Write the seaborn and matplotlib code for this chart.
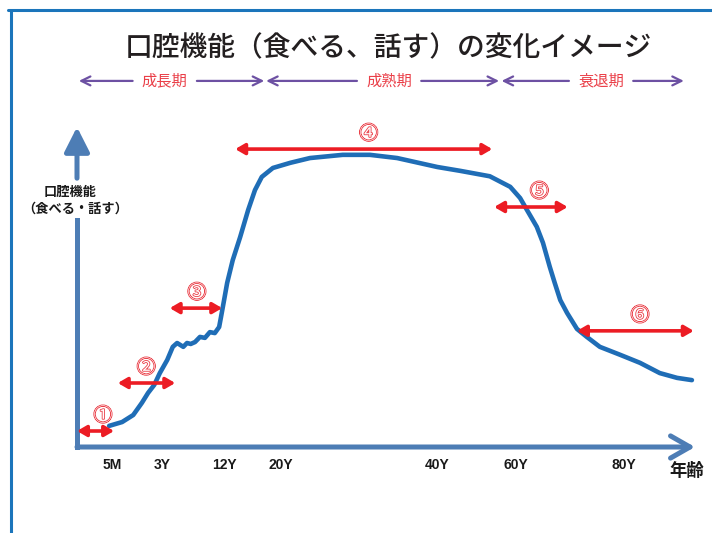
import matplotlib
matplotlib.use("Agg")
import matplotlib.pyplot as plt
import matplotlib.patheffects as pe
from matplotlib.lines import Line2D
import pandas as pd
import seaborn as sns

# Position along the age axis (0-100) and oral-function level (0-100)
curve_pos = [5.2, 7.3, 9.1, 10.5, 11.5, 12.5, 13.4, 14.6, 15.5, 16.2, 17.2, 17.8,
             18.4, 19.1, 19.9, 20.7, 21.5, 22.3, 23.0, 23.3, 23.8, 24.3, 25.2, 26.4,
             27.7, 28.8, 29.9, 31.7, 34.5, 37.7, 43.0, 47.4, 51.8, 58.3, 62.0, 66.8,
             70.1, 71.7, 72.8, 74.4, 75.4, 76.5, 77.3, 78.2, 79.3, 80.9, 82.5, 84.6,
             87.9, 91.1, 94.3, 97.1, 99.5]
curve_level = [6.6, 7.8, 10.0, 13.8, 16.9, 19.4, 23.1, 27.2, 31.3, 32.5, 31.3, 32.5,
               32.2, 32.8, 34.4, 34.1, 35.9, 35.6, 37.5, 40.6, 45.9, 51.3, 58.4, 65.6,
               74.1, 80.3, 84.4, 87.2, 88.8, 90.3, 91.3, 91.3, 90.3, 87.5, 86.3, 84.6,
               81.3, 77.8, 74.1, 68.8, 63.8, 56.3, 51.3, 45.9, 41.9, 36.9, 34.4, 31.3,
               28.8, 26.3, 23.1, 21.6, 20.9]

tick_pos = [5.7, 13.8, 23.8, 33.0, 58.3, 71.0, 88.5]
tick_labels = ["5M", "3Y", "12Y", "20Y", "40Y", "60Y", "80Y"]

phase_names = ["成長期", "成熟期", "衰退期"]
phase_start = [0.3, 30.6, 68.7]
phase_end = [30.3, 68.3, 98.2]
phase_label_pos = [14.2, 50.5, 84.8]

mark_labels = ["①", "②", "③", "④", "⑤", "⑥"]
mark_start = [0.0, 6.6, 15.0, 25.6, 67.5, 80.9]
mark_end = [6.0, 15.9, 23.5, 67.2, 79.4, 99.8]
mark_level = [5.0, 20.0, 43.4, 93.1, 75.0, 36.3]
mark_label_pos = [4.2, 11.2, 19.4, 47.2, 74.8, 91.1]

title = "口腔機能（食べる、話す）の変化イメージ"
ylabel_lines = ["口腔機能", "（食べる・話す）"]
xlabel = "年齢"

sns.set_style("white")
plt.rcParams["font.family"] = ["Noto Sans CJK JP", "DejaVu Sans"]

AXIS_BLUE = "#4d7db5"
CURVE_BLUE = "#1f6db6"
RED = "#ec1c24"
PINK = "#ea3f48"
PURPLE = "#6d51a3"
FRAME_BLUE = "#1b75bb"

fig = plt.figure(figsize=(7.12, 5.33), dpi=100)
W, H = 712, 533
ax = fig.add_axes([77 / W, (H - 447) / H, 618 / W, 320 / H])
ax.set_xlim(0, 100)
ax.set_ylim(0, 100)
sns.despine(ax=ax, left=True, bottom=True)
ax.set_yticks([])
ax.set_xticks(tick_pos, tick_labels)
ax.tick_params(axis="x", length=0, pad=8)
for lab in ax.get_xticklabels():
    lab.set_family(["Liberation Sans"])
    lab.set_fontweight("bold")
    lab.set_fontsize(10)
    lab.set_color("#1a1a1a")

# page frame
fig.add_artist(Line2D([8 / W, 1], [1 - 10 / H] * 2, transform=fig.transFigure,
                      color=FRAME_BLUE, lw=2.2))
fig.add_artist(Line2D([11 / W] * 2, [0, 1 - 10 / H], transform=fig.transFigure,
                      color=FRAME_BLUE, lw=2.2))

fig.text(388 / W, 1 - 48 / H, title, ha="center", va="center",
         fontsize=20, fontweight="medium", color="#231f20")

# axis arrows
ax.plot([0, 0], [0, 70.9], color=AXIS_BLUE, lw=3.6, solid_capstyle="projecting",
        clip_on=False)
ax.annotate("", xy=(0, 100), xytext=(0, 84.0),
            arrowprops=dict(arrowstyle="-|>,head_length=0.75,head_width=0.38",
                            mutation_scale=20, color=AXIS_BLUE, lw=3.6,
                            shrinkA=0, shrinkB=0), annotation_clip=False)
ax.annotate("", xy=(100, 0), xytext=(0, 0),
            arrowprops=dict(arrowstyle="->,head_length=0.7,head_width=0.4",
                            mutation_scale=20, color=AXIS_BLUE, lw=3.6,
                            shrinkA=0, shrinkB=0), annotation_clip=False)

ax.text(-1.1, 79.6, ylabel_lines[0], ha="center", va="center", fontsize=9.5,
        fontweight="bold", color="#1a1a1a", clip_on=False)
ax.text(-0.3, 74.4, ylabel_lines[1], ha="center", va="center", fontsize=9.5,
        fontweight="bold", color="#1a1a1a", clip_on=False)
ax.text(98.7, -7.5, xlabel, ha="center", va="center", fontsize=12.5,
        fontweight="bold", color="#1a1a1a", clip_on=False)

# the oral-function curve
df = pd.DataFrame({"pos": curve_pos, "level": curve_level})
sns.lineplot(data=df, x="pos", y="level", ax=ax, color=CURVE_BLUE, lw=3.3,
             sort=False, estimator=None)
ax.set_xlabel("")
ax.set_ylabel("")

# life-stage arrows above the chart
gap = 5.2
for name, s, e, c in zip(phase_names, phase_start, phase_end, phase_label_pos):
    ax.text(c, 114.4, name, ha="center", va="center", fontsize=11, color=PINK,
            clip_on=False)
    style = dict(arrowstyle="->,head_length=0.65,head_width=0.32",
                 mutation_scale=10, color=PURPLE, lw=1.6, shrinkA=0, shrinkB=0)
    ax.annotate("", xy=(s, 114.4), xytext=(c - gap, 114.4), arrowprops=style,
                annotation_clip=False)
    ax.annotate("", xy=(e, 114.4), xytext=(c + gap, 114.4), arrowprops=style,
                annotation_clip=False)

# numbered ranges
outline = [pe.withStroke(linewidth=1.2, foreground=PINK)]
for lab, s, e, lv, lx in zip(mark_labels, mark_start, mark_end, mark_level,
                             mark_label_pos):
    ax.annotate("", xy=(e, lv), xytext=(s, lv),
                arrowprops=dict(arrowstyle="<|-|>,head_length=0.55,head_width=0.32",
                                mutation_scale=10, color=RED, lw=2.6,
                                shrinkA=0, shrinkB=0), annotation_clip=False)
    ax.annotate(lab, xy=(lx, lv), xytext=(0, 11), textcoords="offset points",
                ha="center", va="center", fontsize=13.5, color="white",
                path_effects=outline, annotation_clip=False)

fig.savefig("out.png", dpi=100)
